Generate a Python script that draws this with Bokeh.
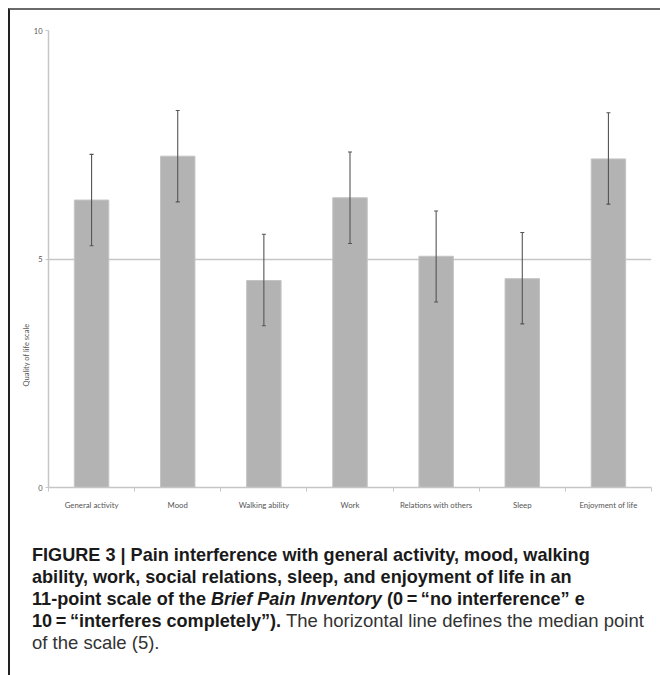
import math
from bokeh.plotting import figure
from bokeh.models import (ColumnDataSource, Whisker, TeeHead, FixedTicker,
                          Range1d, Div)
from bokeh.layouts import column, row
from bokeh.core.properties import value
from bokeh.embed import file_html
from bokeh.resources import INLINE

# ---- data ----
categories = ["General activity", "Mood", "Walking ability", "Work",
              "Relations with others", "Sleep", "Enjoyment of life"]
means = [6.29, 7.25, 4.53, 6.34, 5.06, 4.57, 7.19]
err_up = [7.29, 8.25, 5.54, 7.34, 6.05, 5.58, 8.20]
err_low = [5.29, 6.25, 3.54, 5.34, 4.06, 3.58, 6.20]
y_ticks = [0, 5, 10]
y_label = "Quality of life scale"
y_label_pos = 2.9

positions = [i + 0.5 for i in range(len(categories))]
boundaries = list(range(len(categories) + 1))

src = ColumnDataSource(dict(x=positions, top=means, upper=err_up, lower=err_low))

GRID = "#c6c6c6"
TICK_TXT = "#555555"
H = 507
TOP = 20
BOTTOM = 30
LW = 20

yr = Range1d(0, 10)

p = figure(width=650 - LW, height=H,
           x_range=Range1d(0, len(categories)), y_range=yr,
           output_backend="svg", toolbar_location=None,
           min_border_left=17, min_border_right=9,
           min_border_top=TOP, min_border_bottom=BOTTOM)
p.outline_line_color = None

p.vbar(x="x", top="top", bottom=0, width=0.4, source=src,
       fill_color="#b3b3b3", line_color="#c4c4c4", line_width=1)

whisk = Whisker(source=src, base="x", upper="upper", lower="lower",
                line_color="#555555", line_width=1.1, level="overlay",
                upper_head=TeeHead(size=4, line_color="#555555", line_width=1.1),
                lower_head=TeeHead(size=4, line_color="#555555", line_width=1.1))
p.add_layout(whisk)

# x axis
p.xaxis.ticker = FixedTicker(ticks=positions, minor_ticks=boundaries)
p.xaxis.major_label_overrides = {pos: c for pos, c in zip(positions, categories)}
p.xaxis.major_tick_line_color = None
p.xaxis.major_tick_out = 0
p.xaxis.minor_tick_in = 0
p.xaxis.minor_tick_out = 4
p.xaxis.minor_tick_line_color = GRID
p.xaxis.axis_line_color = GRID
p.xaxis.axis_line_width = 1.5
p.xaxis.major_label_standoff = 8
p.xaxis.major_label_text_font = "Lato"
p.xaxis.major_label_text_font_size = "7.8px"
p.xaxis.major_label_text_color = TICK_TXT

# y axis
p.yaxis.ticker = FixedTicker(ticks=y_ticks, minor_ticks=[])
p.yaxis.major_tick_in = 0
p.yaxis.major_tick_out = 3
p.yaxis.major_tick_line_color = GRID
p.yaxis.axis_line_color = GRID
p.yaxis.axis_line_width = 1.5
p.yaxis.major_label_standoff = 3
p.yaxis.major_label_text_font = "Lato"
p.yaxis.major_label_text_font_size = "7.5px"
p.yaxis.major_label_text_color = TICK_TXT

p.xgrid.visible = False
p.ygrid.ticker = FixedTicker(ticks=y_ticks, minor_ticks=[])
p.ygrid.grid_line_color = GRID
p.ygrid.grid_line_width = 1.5

# narrow figure carrying the rotated y-axis title, sharing the y range
lf = figure(width=LW, height=H, x_range=Range1d(0, 1), y_range=yr,
            x_axis_type=None, y_axis_type=None,
            output_backend="svg", toolbar_location=None,
            min_border_left=0, min_border_right=0,
            min_border_top=TOP, min_border_bottom=BOTTOM)
lf.outline_line_color = None
lf.grid.visible = False
lf.text(x=[0.78], y=[y_label_pos], text=[y_label], angle=math.pi / 2,
        text_align="center", text_baseline="middle",
        text_font=value("Lato"), text_font_size="7.5px", text_color=TICK_TXT)

caption = (
    '<div style="font-family:\'Liberation Sans\', Arial, sans-serif; font-size:18.5px; '
    'line-height:21px; color:#1a1a1a; white-space:nowrap; padding:22px 0 0 17px;">'
    '<span style="font-family:\'Liberation Sans Narrow\', \'Liberation Sans\', sans-serif; font-weight:bold; font-size:18.1px;">'
    'FIGURE 3 | Pain interference with general activity, mood, walking<br>'
    'ability, work, social relations, sleep, and enjoyment of life in an<br>'
    '11-point scale of the <i>Brief Pain Inventory</i> (0\u2009=\u2009\u201cno interference\u201d e<br>'
    '10\u2009=\u2009\u201cinterferes completely\u201d).</span>'
    ' <span style="color:#333;">The horizontal line defines the median point<br>'
    'of the scale (5).</span></div>'
)
div = Div(text=caption, width=650, height=155)

layout = column(row(lf, p), div,
                styles={"border-left": "2px solid #222222",
                        "border-top": "2px solid #6a6a6a",
                        "margin-top": "8px", "margin-left": "8px"})

open("out.html", "w").write(file_html(layout, INLINE))
